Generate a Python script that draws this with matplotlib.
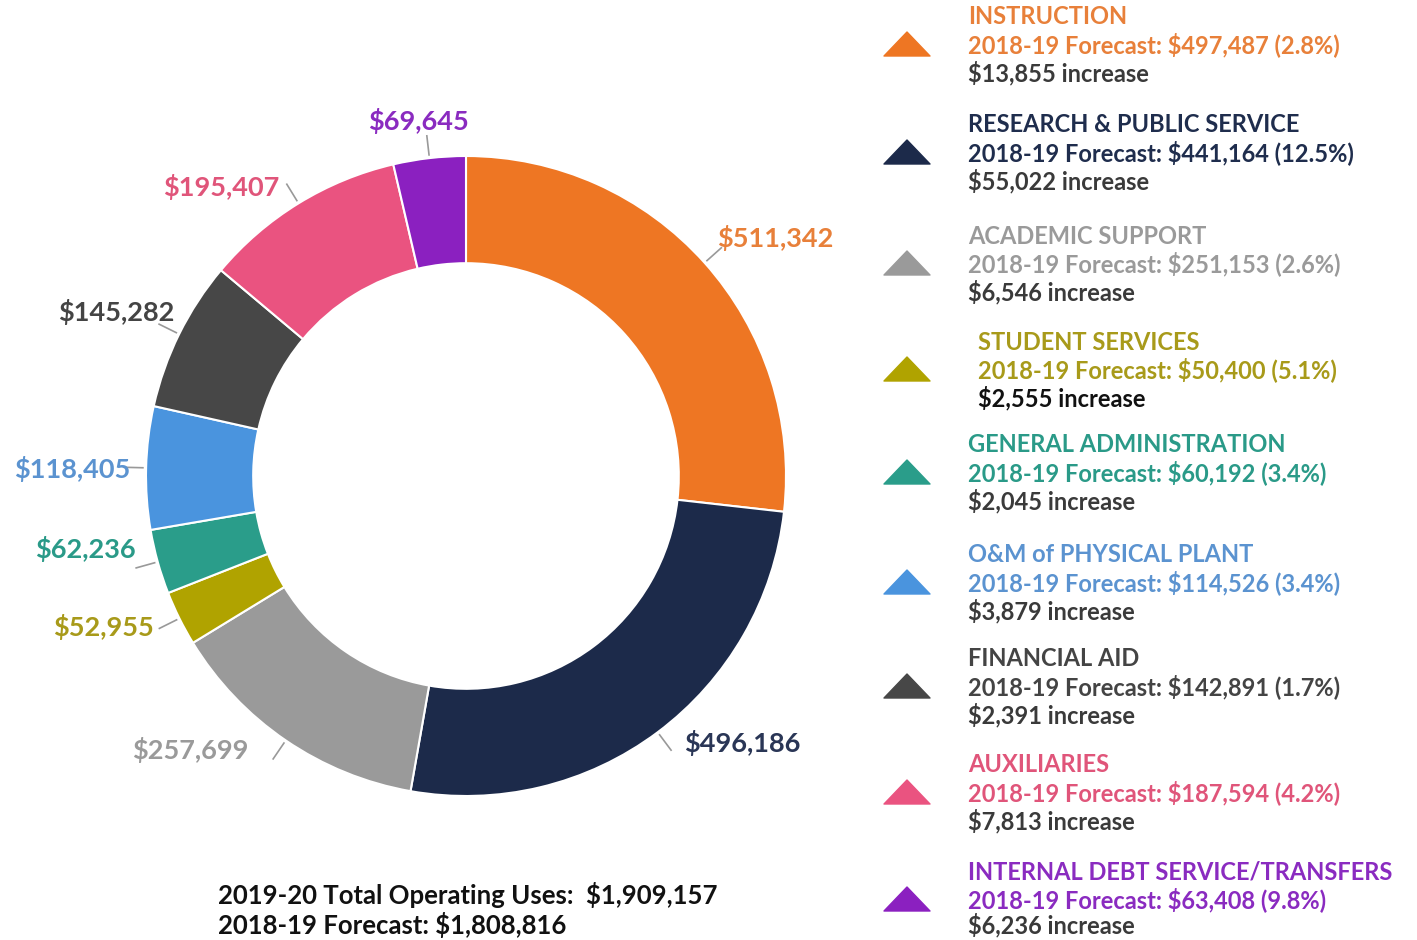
import matplotlib
matplotlib.use('Agg')
import matplotlib.pyplot as plt
import numpy as np
from matplotlib.patches import Polygon

matplotlib.rcParams['font.family'] = ['Lato', 'DejaVu Sans']

# slices, clockwise from 12 o'clock
uses = [511342, 496186, 257699, 52955, 62236, 118405, 145282, 195407, 69645]
slice_colors = ['#EE7623', '#1C2A4A', '#9A9A9A', '#B0A300', '#2A9D8A',
                '#4A94DE', '#474747', '#EA5380', '#8B20C0']
label_colors = ['#E8803A', '#2A3656', '#9A9A9A', '#A89A1A', '#2A9A88',
                '#5B93D0', '#444444', '#E0557A', '#8A2BC0']

# legend entries
names = ['INSTRUCTION', 'RESEARCH & PUBLIC SERVICE', 'ACADEMIC SUPPORT',
         'STUDENT SERVICES', 'GENERAL ADMINISTRATION', 'O&M of PHYSICAL PLANT',
         'FINANCIAL AID', 'AUXILIARIES', 'INTERNAL DEBT SERVICE/TRANSFERS']
forecast = ['$497,487', '$441,164', '$251,153', '$50,400', '$60,192',
            '$114,526', '$142,891', '$187,594', '$63,408']
pct = ['2.8%', '12.5%', '2.6%', '5.1%', '3.4%', '3.4%', '1.7%', '4.2%', '9.8%']
increase = ['$13,855', '$55,022', '$6,546', '$2,555', '$2,045',
            '$3,879', '$2,391', '$7,813', '$6,236']
legend_colors = ['#E8803A', '#1F2D4D', '#9A9A9A', '#A89A1A', '#2A9A88',
                 '#5B93D0', '#444444', '#E0557A', '#8A2BC0']

total_now = '$1,909,157'
total_prev = '$1,808,816'

W, H = 1417, 940
fig = plt.figure(figsize=(W / 100, H / 100), dpi=100)

# donut axes: centre at (466, 476) px, 1 unit = 323 px
cx, cy, R = 466, 476, 323
ax = fig.add_axes([(cx - 400) / W, (H - cy - 400) / H, 800 / W, 800 / H])
ax.set_xlim(-400 / R, 400 / R)
ax.set_ylim(-400 / R, 400 / R)
ax.set_aspect('equal')
ax.axis('off')

wedges, _ = ax.pie(uses, colors=slice_colors, startangle=90, counterclock=False,
                   radius=1.0, wedgeprops=dict(width=0.335, edgecolor='white', linewidth=1.5))

# slice labels (pixel positions of text anchor) and leader ticks
label_pos = [(719, 236, 'left'), (686, 745, 'left'), (246, 753, 'right'),
             (151, 628, 'right'), (133, 550, 'right'), (127, 469, 'right'),
             (172, 310, 'right'), (278, 184, 'right'), (418, 118, 'center')]

for w, v, c, (px, py, ha) in zip(wedges, uses, label_colors, label_pos):
    ang = np.deg2rad((w.theta1 + w.theta2) / 2)
    ax.plot([1.01 * np.cos(ang), 1.07 * np.cos(ang)],
            [1.01 * np.sin(ang), 1.07 * np.sin(ang)], color='#999999', lw=1.2)
    ax.text((px - cx) / R, (cy - py) / R, f'${v:,}', color=c, fontsize=19.5,
            fontweight='bold', ha=ha, va='center')

# overlay in pixel coordinates for the legend and totals
ov = fig.add_axes([0, 0, 1, 1])
ov.set_xlim(0, W)
ov.set_ylim(H, 0)
ov.axis('off')

tops = [17, 125, 236, 342, 445, 555, 659, 765, 872]
for i, top in enumerate(tops):
    tx = 978 if i == 3 else 968
    col = legend_colors[i]
    ty = top + 27
    ov.add_patch(Polygon([[884, ty + 12], [930, ty + 12], [907, ty - 12]],
                         closed=True, color=slice_colors[i], joinstyle='round'))
    ov.text(tx, top, names[i], color=col, fontsize=17, fontweight='bold', va='center')
    ov.text(tx, top + 28, f'2018-19 Forecast: {forecast[i]} ({pct[i]})', color=col,
            fontsize=17, fontweight='bold', va='center')
    inc_col = '#111111' if i == 3 else '#3A3A3A'
    ov.text(tx, min(top + 56, 925), f'{increase[i]} increase', color=inc_col, fontsize=17,
            fontweight='bold', va='center')

ov.text(218, 895, f'2019-20 Total Operating Uses:  {total_now}', color='#111111',
        fontsize=18.5, fontweight='bold', va='center')
ov.text(218, 925, f'2018-19 Forecast: {total_prev}', color='#111111',
        fontsize=18.5, fontweight='bold', va='center')

fig.savefig('out.png', dpi=100)
